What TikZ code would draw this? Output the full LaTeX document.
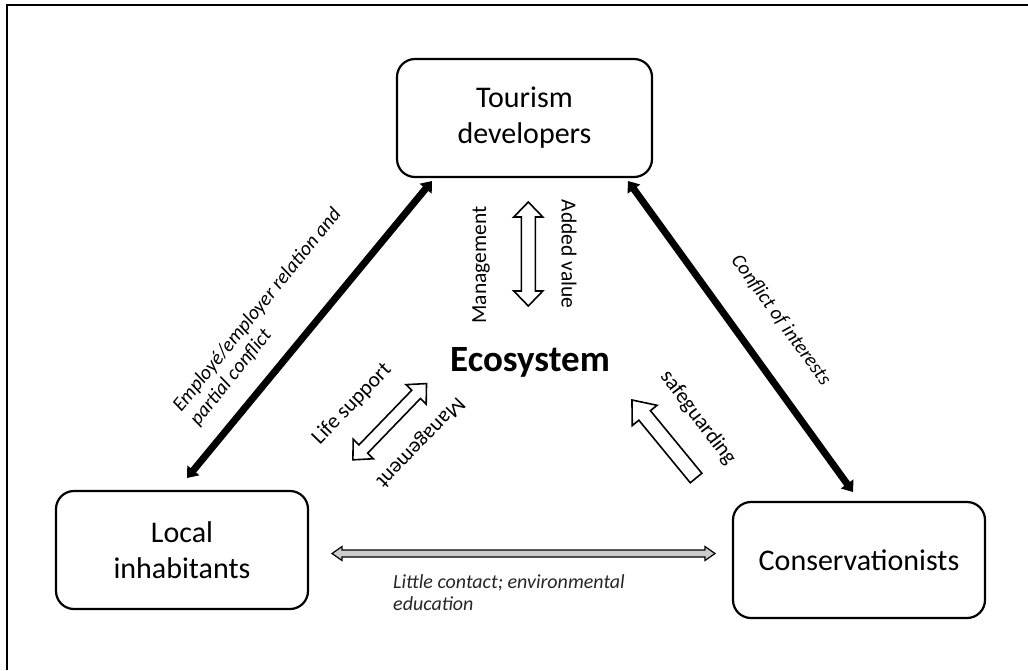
\documentclass[tikz,border=0pt]{standalone}
\usepackage{fontspec}
\setmainfont{Carlito}
\usetikzlibrary{arrows.meta}
\begin{document}
\begin{tikzpicture}[x=1pt,y=-1pt,
  actor/.style={draw,line width=2.2pt,rounded corners=18pt,inner sep=0pt,
    align=center,font=\fontsize{30}{36}\selectfont},
  thick arrow/.style={line width=7pt,{Triangle[length=10pt,width=15pt]}-{Triangle[length=10pt,width=15pt]}},
  blockarrow/.style={draw,line width=1.6pt,fill=white,line join=miter},
  lbl/.style={font=\fontsize{21.5}{24}\selectfont,inner sep=0pt},
  ilbl/.style={font=\itshape\fontsize{20}{22}\selectfont,inner sep=0pt,align=left},
  pics/dblarr/.style n args={4}{code={%
    \draw[blockarrow] (-#1/2,0) -- (-#1/2+#4,#3) -- (-#1/2+#4,#2) -- (#1/2-#4,#2)
      -- (#1/2-#4,#3) -- (#1/2,0) -- (#1/2-#4,-#3) -- (#1/2-#4,-#2)
      -- (-#1/2+#4,-#2) -- (-#1/2+#4,-#3) -- cycle;}},
  pics/sglarr/.style n args={4}{code={%
    \draw[blockarrow] (-#1/2,-#2) -- (#1/2-#4,-#2) -- (#1/2-#4,-#3) -- (#1/2,0)
      -- (#1/2-#4,#3) -- (#1/2-#4,#2) -- (-#1/2,#2) -- cycle;}},
]
\useasboundingbox (0,0) rectangle (1028,670);
% frame
\draw[line width=2pt] (7,670) -- (7,5) -- (1028,5);

% actors
\node[actor,minimum width=255pt,minimum height=118pt] (tour) at (524.5,118) {Tourism\\developers};
\node[actor,minimum width=252pt,minimum height=118pt] (local) at (182,550) {Local\\inhabitants};
\node[actor,minimum width=252pt,minimum height=116pt] (cons) at (859,560) {Conservationists};

\node[font=\bfseries\fontsize{37}{40}\selectfont,anchor=base,inner sep=0pt] (eco) at (530,371) {Ecosystem};

% thick black arrows
\coordinate (tl) at (432,181);
\coordinate (lt) at (187,478);
\coordinate (tr) at (628,181);
\coordinate (cr) at (853,492);
\draw[thick arrow] (tl) -- (lt);
\draw[thick arrow] (tr) -- (cr);

\node[ilbl,rotate=51] (emp) at (266,317) {Employé/employer relation and\\partial conflict};
\node[ilbl,rotate=-54] (coi) at (781,320) {Conflict of interests};

% vertical block arrow
\pic[rotate=90] at (528.3,254) {dblarr={104}{7}{14.5}{15}};
\node[lbl,rotate=90] (man1) at (481,265) {Management};
\node[lbl,rotate=-90] (add) at (569,254) {Added value};

% life support arrow
\pic[rotate=46] at (389.7,421.7) {dblarr={106}{6}{14}{15}};
\node[lbl,rotate=46] (life) at (352,404) {Life support};
\node[lbl,rotate=-134] (man2) at (420,442) {Management};

% safeguarding arrow
\pic[rotate=129.4] at (664,439) {sglarr={101}{7.5}{16}{20}};
\node[lbl,rotate=-53] (safe) at (698,418) {safeguarding};

% horizontal gray arrow
\coordinate (hl) at (332,553.5);
\coordinate (hr) at (715,553.5);
\path (hl) -- (hr) coordinate[midway] (hm);
\begin{scope}[shift={(hm)}]
\draw[line width=1.2pt,fill=black!20,line join=miter] (-191.5,0) -- (-181.5,-7) -- (-181.5,-3.5) -- (181.5,-3.5) -- (181.5,-7) -- (191.5,0) -- (181.5,7) -- (181.5,3.5) -- (-181.5,3.5) -- (-181.5,7) -- cycle;
\end{scope}
\node[ilbl,anchor=base west,text=black!85] (little) at (393,610) {Little contact; environmental\\education};
\end{tikzpicture}
\end{document}
